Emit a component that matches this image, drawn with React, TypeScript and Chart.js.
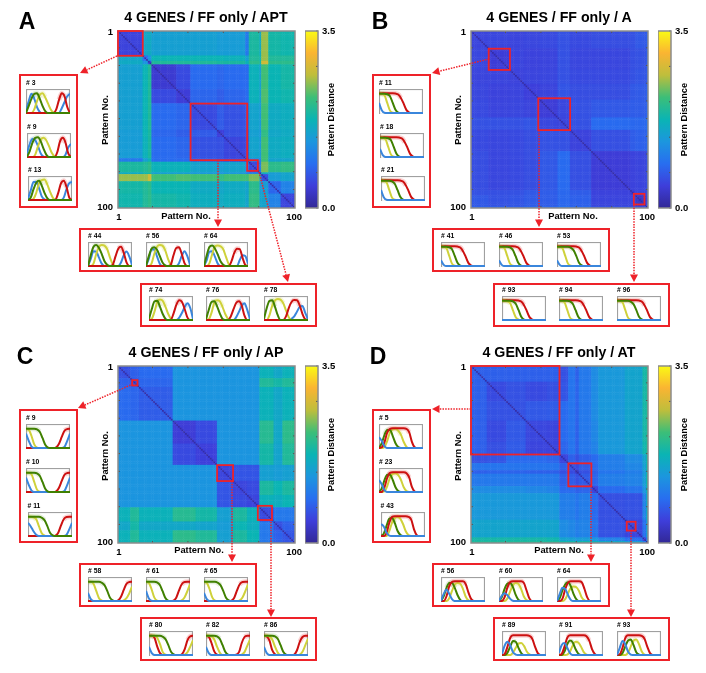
import React, { useEffect, useRef } from "react";
import { Chart, registerables } from "chart.js";

Chart.register(...registerables);

const FONT = "'Liberation Sans', Arial, sans-serif";
const RED = "#ee2229";
const SOFT = "blur(0.35px)";
const GRID = [0, 1, 2, 3, 4, 5, 6, 7, 8, 9, 10, 11, 12, 13, 14, 15, 16];
const PATTERNS = Array.from({ length: 100 }, (_, i) => i + 1);
const DIAGONAL = 0.1;
const BAR_TITLE = "Pattern Distance";

// ---- Heatmap block tables: first pattern of each cluster, and upper-triangular distances between clusters
const SEG_A = [1, 15, 18, 20, 34, 42, 57, 61, 73, 75, 81, 82, 86, 93, 101];
const DIST_A = [
  [0.48, 1.55, 1.6, 1.45, 1.45, 1.45, 1.4, 1.4, 1.0, 1.9, 1.6, 2.5, 1.85, 1.8],
  [0.9, 1.3, 1.75, 1.75, 1.75, 1.75, 1.7, 1.45, 1.95, 1.8, 2.5, 1.95, 1.95],
  [0.6, 1.95, 1.95, 1.95, 1.9, 1.9, 1.7, 2.05, 1.9, 2.75, 2.05, 2.05],
  [0.38, 0.55, 0.85, 0.8, 0.85, 0.85, 1.7, 1.45, 2.2, 1.75, 1.85],
  [0.42, 0.8, 0.72, 0.8, 0.85, 1.7, 1.45, 2.25, 1.75, 1.8],
  [0.55, 0.7, 0.62, 0.7, 1.5, 1.35, 2.2, 1.6, 1.65],
  [0.45, 0.6, 0.6, 1.45, 1.3, 2.1, 1.55, 1.6],
  [0.5, 0.55, 1.5, 1.35, 2.2, 1.6, 1.65],
  [0.3, 1.2, 1.1, 2.2, 1.5, 1.5],
  [0.55, 1.1, 2.4, 2.05, 2.1],
  [0.2, 1.6, 1.4, 1.5],
  [0.6, 1.4, 1.5],
  [0.8, 1.1],
  [0.5],
];
const SEG_B = [1, 11, 23, 31, 40, 50, 57, 69, 91, 94, 100, 101];
const DIST_B = [
  [0.5, 0.52, 0.5, 0.52, 0.55, 0.62, 0.55, 0.58, 0.62, 0.68, 0.75],
  [0.42, 0.5, 0.48, 0.5, 0.62, 0.52, 0.52, 0.6, 0.62, 0.72],
  [0.48, 0.5, 0.52, 0.62, 0.55, 0.55, 0.62, 0.65, 0.72],
  [0.45, 0.5, 0.65, 0.58, 0.58, 0.68, 0.7, 0.78],
  [0.42, 0.52, 0.62, 0.68, 0.72, 0.72, 0.8],
  [0.5, 0.62, 0.85, 0.82, 0.82, 0.9],
  [0.48, 0.6, 0.72, 0.75, 0.82],
  [0.42, 0.48, 0.5, 0.6],
  [0.4, 0.5, 0.6],
  [0.32, 0.55],
  [0.2],
];
const SEG_C = [1, 8, 13, 32, 45, 57, 66, 74, 81, 89, 94, 101];
const DIST_C = [
  [0.6, 0.75, 0.85, 1.3, 1.3, 1.3, 1.3, 1.3, 1.7, 1.55, 1.7],
  [0.65, 0.8, 1.3, 1.3, 1.3, 1.3, 1.3, 1.95, 1.85, 1.95],
  [0.72, 1.3, 1.3, 1.3, 1.3, 1.3, 1.7, 1.55, 1.7],
  [0.42, 0.55, 1.3, 1.3, 1.3, 2.0, 1.55, 2.05],
  [0.45, 1.3, 1.3, 1.3, 1.85, 1.5, 1.95],
  [0.5, 0.65, 0.65, 1.45, 1.4, 1.45],
  [0.5, 0.55, 1.9, 1.75, 1.9],
  [0.5, 1.7, 1.65, 1.75],
  [0.55, 1.0, 1.0],
  [0.6, 0.75],
  [0.65],
];
const SEG_D = [1, 10, 21, 32, 44, 51, 56, 60, 62, 69, 73, 88, 98, 100, 101];
const DIST_D = [
  [0.75, 0.75, 0.75, 0.75, 0.75, 0.62, 0.95, 0.75, 1.0, 1.2, 1.35, 1.5, 1.85, 1.95],
  [0.55, 0.62, 0.55, 0.6, 0.65, 0.95, 0.78, 1.0, 1.2, 1.35, 1.5, 1.85, 1.95],
  [0.62, 0.68, 0.7, 0.85, 0.95, 0.78, 1.0, 1.2, 1.35, 1.5, 1.85, 1.95],
  [0.52, 0.5, 0.85, 0.95, 0.75, 1.0, 1.15, 1.35, 1.5, 1.85, 1.95],
  [0.5, 0.8, 0.95, 0.75, 1.0, 1.1, 1.35, 1.5, 1.8, 1.95],
  [0.5, 0.75, 0.6, 0.75, 0.85, 1.05, 1.2, 1.5, 1.8],
  [0.65, 0.55, 0.72, 0.85, 1.05, 1.15, 1.45, 1.8],
  [0.3, 0.6, 0.75, 0.95, 1.05, 1.35, 1.7],
  [0.7, 0.8, 1.05, 1.1, 1.4, 1.8],
  [0.5, 0.85, 0.95, 1.3, 1.7],
  [0.6, 0.62, 1.1, 1.55],
  [0.52, 0.9, 1.4],
  [0.5, 1.0],
  [0.3],
];

// ---- Gene curve shapes (trailing zeros omitted)
const F2 = [0.8, 0.76, 0.5, 0.15, 0.02];
const F3 = [0.8, 0.8, 0.74, 0.42, 0.1, 0.01];
const F4 = [0.8, 0.8, 0.78, 0.7, 0.4, 0.12, 0.02];
const F5 = [0.8, 0.8, 0.8, 0.78, 0.7, 0.42, 0.14, 0.02];
const F6 = [0.8, 0.8, 0.8, 0.8, 0.78, 0.68, 0.42, 0.14, 0.02];
const F7 = [0.8, 0.8, 0.8, 0.8, 0.8, 0.76, 0.66, 0.42, 0.14, 0.03];
const RF9 = [0.82, 0.82, 0.82, 0.82, 0.82, 0.82, 0.81, 0.77, 0.62, 0.38, 0.12, 0.02];
const RF10 = [0.82, 0.82, 0.82, 0.82, 0.82, 0.82, 0.82, 0.81, 0.77, 0.62, 0.38, 0.12, 0.02];
const RF11 = [0.82, 0.82, 0.82, 0.82, 0.82, 0.82, 0.82, 0.82, 0.81, 0.77, 0.62, 0.38, 0.12, 0.02];
const R12 = [0, 0, 0, 0, 0, 0, 0, 0, 0, 0, 0.02, 0.14, 0.44, 0.7, 0.79, 0.8, 0.8];
const R13 = [0, 0, 0, 0, 0, 0, 0, 0, 0, 0, 0, 0.03, 0.18, 0.46, 0.72, 0.79, 0.8];
const ZERO = [0];
const T5 = [0.42, 0.12, 0.01];
const T4 = [0.34, 0.08];
const T3 = [0.24, 0.05];

type Mini = { id: number; b: number[]; g: number[]; y: number[]; r: number[]; top?: string };

const A_LEFT: Mini[] = [
  { id: 3, b: [0.1, 0.5, 0.8, 0.6, 0.25, 0.05, 0, 0, 0, 0, 0, 0, 0, 0.2, 0.45, 0.7, 0.8], g: [0, 0.3, 0.6, 0.8, 0.82, 0.6, 0.3, 0.08], y: [0, 0, 0, 0.15, 0.5, 0.75, 0.82, 0.65, 0.4, 0.15, 0.02], r: [0, 0, 0, 0, 0, 0, 0, 0, 0, 0, 0, 0.15, 0.55, 0.82, 0.7, 0.25, 0] },
  { id: 9, b: [0.15, 0.55, 0.75, 0.7, 0.45, 0.15, 0.02, 0, 0, 0, 0, 0, 0, 0, 0.1, 0.4, 0.55], g: [0, 0.25, 0.6, 0.8, 0.82, 0.65, 0.35, 0.1], y: [0, 0, 0, 0.1, 0.45, 0.72, 0.8, 0.7, 0.45, 0.18, 0.03], r: [0, 0, 0, 0, 0, 0, 0, 0, 0, 0, 0, 0.2, 0.65, 0.8, 0.6, 0.15, 0] },
  { id: 13, b: [0.05, 0.4, 0.75, 0.75, 0.5, 0.15, 0.03, 0, 0, 0, 0, 0, 0, 0.1, 0.45, 0.7, 0.75], g: [0, 0.1, 0.45, 0.72, 0.8, 0.6, 0.3, 0.08], y: [0, 0, 0.05, 0.3, 0.7, 0.83, 0.85, 0.65, 0.35, 0.1], r: [0, 0, 0, 0, 0, 0, 0, 0, 0, 0, 0.02, 0.3, 0.7, 0.8, 0.55, 0.1, 0] },
];
const A_MID: Mini[] = [
  { id: 44, b: [0, 0.3, 0.62, 0.6, 0.35, 0.1, 0, 0, 0, 0, 0, 0, 0.15, 0.45, 0.6, 0.4, 0.05], g: [0, 0.45, 0.8, 0.88, 0.75, 0.5, 0.2, 0.05], y: [0, 0, 0.1, 0.5, 0.8, 0.88, 0.85, 0.7, 0.35, 0.08], r: [0, 0, 0, 0, 0, 0, 0, 0, 0, 0.05, 0.4, 0.72, 0.8, 0.55, 0.15] },
  { id: 56, b: [0, 0.3, 0.68, 0.7, 0.4, 0.1, 0, 0, 0, 0, 0, 0, 0.12, 0.42, 0.62, 0.42, 0.05], g: [0, 0.4, 0.72, 0.78, 0.68, 0.42, 0.15, 0.03], y: [0, 0, 0.1, 0.5, 0.8, 0.88, 0.85, 0.65, 0.3, 0.06], r: [0, 0, 0, 0, 0, 0, 0, 0, 0, 0.05, 0.45, 0.75, 0.78, 0.5, 0.12] },
  { id: 64, b: [0, 0.25, 0.6, 0.62, 0.38, 0.1, 0, 0, 0, 0, 0, 0, 0, 0.25, 0.45, 0.42, 0.1], g: [0, 0.45, 0.8, 0.85, 0.72, 0.48, 0.2, 0.05], y: [0, 0, 0.12, 0.5, 0.82, 0.85, 0.82, 0.7, 0.38, 0.08], r: [0, 0, 0, 0, 0, 0, 0, 0, 0, 0, 0.2, 0.55, 0.72, 0.7, 0.35, 0.05] },
];
const A_RIGHT: Mini[] = [
  { id: 74, b: [0, 0, 0, 0, 0, 0, 0, 0, 0, 0, 0, 0.1, 0.3, 0.55, 0.7, 0.5, 0.05], g: [0.05, 0.45, 0.78, 0.8, 0.55, 0.25, 0.05], y: [0, 0.05, 0.35, 0.75, 0.85, 0.8, 0.55, 0.25, 0.05], r: [0, 0, 0, 0, 0, 0, 0, 0, 0.02, 0.3, 0.65, 0.82, 0.75, 0.45, 0.1] },
  { id: 76, b: [0, 0, 0, 0, 0, 0, 0, 0, 0, 0, 0, 0.12, 0.35, 0.6, 0.7, 0.42, 0.03], g: [0.03, 0.42, 0.75, 0.78, 0.58, 0.28, 0.05], y: [0, 0.03, 0.3, 0.72, 0.82, 0.78, 0.55, 0.25, 0.05], r: [0, 0, 0, 0, 0, 0, 0, 0, 0, 0.15, 0.45, 0.72, 0.78, 0.6, 0.18] },
  { id: 78, b: [0, 0, 0, 0, 0, 0, 0, 0, 0, 0, 0.05, 0.15, 0.35, 0.55, 0.58, 0.3, 0.02], g: [0.05, 0.5, 0.8, 0.82, 0.55, 0.2], y: [0, 0, 0.2, 0.6, 0.82, 0.88, 0.85, 0.7, 0.4, 0.12], r: [0, 0, 0, 0, 0, 0, 0, 0, 0.15, 0.5, 0.75, 0.83, 0.82, 0.6, 0.25, 0.03] },
];

const B_LEFT: Mini[] = [
  { id: 11, b: T5, g: F5, y: F3, r: RF9 },
  { id: 18, b: T4, g: F5, y: F3, r: RF10 },
  { id: 21, b: T5, g: F6, y: F3, r: RF10 },
];
const B_MID: Mini[] = [
  { id: 41, b: T3, g: F5, y: F3, r: RF9 },
  { id: 46, b: T3, g: F6, y: F3, r: RF9 },
  { id: 53, b: T3, g: F7, y: F3, r: RF10 },
];
const B_RIGHT: Mini[] = [
  { id: 93, b: ZERO, g: F6, y: F4, r: RF9 },
  { id: 94, b: ZERO, g: F6, y: F3, r: RF10 },
  { id: 96, b: ZERO, g: F7, y: F3, r: RF11 },
];

const BLUE_END = [0.6, 0.3, 0.06, 0, 0, 0, 0, 0, 0, 0, 0, 0, 0, 0, 0.05, 0.3, 0.6];
const Y_58 = [0.8, 0.8, 0.72, 0.42, 0.12, 0.02, 0, 0, 0, 0, 0, 0, 0, 0.03, 0.12, 0.32, 0.6];
const Y_61 = [0.8, 0.76, 0.5, 0.15, 0.02, 0, 0, 0, 0, 0, 0, 0, 0, 0.03, 0.15, 0.4, 0.7];
const C_LEFT: Mini[] = [
  { id: 9, b: BLUE_END, g: F6, y: F2, r: R13, top: "c" },
  { id: 10, b: BLUE_END, g: F6, y: F3, r: R13, top: "c" },
  { id: 11, b: [0.55, 0.4, 0.2, 0.05, 0, 0, 0, 0, 0, 0, 0, 0, 0, 0, 0.05, 0.28, 0.55], g: F7, y: F4, r: R12, top: "c" },
];
const C_MID: Mini[] = [
  { id: 58, b: T4, g: F7, y: Y_58, r: R13 },
  { id: 61, b: T5, g: F6, y: Y_61, r: R12 },
  { id: 65, b: T4, g: F7, y: Y_61, r: R12 },
];
const C_RIGHT: Mini[] = [
  { id: 80, b: T4, g: F7, y: [0.8, 0.8, 0.8, 0.72, 0.45, 0.12, 0.02, 0, 0, 0, 0, 0, 0, 0.02, 0.12, 0.35, 0.62], r: [0.8, 0.8, 0.72, 0.35, 0.08, 0, 0, 0, 0, 0, 0, 0, 0.04, 0.25, 0.62, 0.78, 0.8] },
  { id: 82, b: T4, g: F6, y: [0.8, 0.8, 0.78, 0.65, 0.35, 0.1, 0, 0, 0, 0, 0, 0, 0, 0.02, 0.12, 0.38, 0.65], r: [0.8, 0.76, 0.5, 0.15, 0.02, 0, 0, 0, 0, 0, 0, 0.02, 0.12, 0.5, 0.75, 0.8, 0.8] },
  { id: 86, b: T4, g: F6, y: [0.8, 0.8, 0.78, 0.65, 0.35, 0.1, 0, 0, 0, 0, 0, 0, 0, 0.02, 0.14, 0.4, 0.68], r: [0.8, 0.78, 0.6, 0.2, 0.03, 0, 0, 0, 0, 0, 0, 0.02, 0.2, 0.55, 0.75, 0.8, 0.8] },
];

const D_LEFT: Mini[] = [
  { id: 5, b: [0.45, 0.3, 0.08], g: [0, 0.2, 0.55, 0.75, 0.75, 0.5, 0.2, 0.04], y: [0, 0, 0.05, 0.3, 0.65, 0.78, 0.8, 0.72, 0.55, 0.25, 0.05], r: [0, 0.03, 0.25, 0.65, 0.8, 0.82, 0.82, 0.82, 0.82, 0.82, 0.8, 0.65, 0.25, 0.03] },
  { id: 23, b: [0.5, 0.32, 0.08], g: [0, 0.15, 0.5, 0.72, 0.72, 0.5, 0.2, 0.04], y: [0, 0, 0.03, 0.25, 0.6, 0.75, 0.78, 0.7, 0.5, 0.2, 0.04], r: [0, 0, 0.2, 0.6, 0.8, 0.82, 0.82, 0.82, 0.82, 0.82, 0.78, 0.6, 0.2, 0.02] },
  { id: 43, b: [0.5, 0.4, 0.15, 0.02], g: [0, 0.1, 0.42, 0.72, 0.75, 0.55, 0.22, 0.05], y: [0, 0, 0, 0.2, 0.55, 0.75, 0.8, 0.72, 0.5, 0.2, 0.04], r: [0, 0, 0.12, 0.55, 0.8, 0.82, 0.82, 0.82, 0.82, 0.82, 0.8, 0.68, 0.28, 0.04] },
];
const D_MID: Mini[] = [
  { id: 56, b: [0, 0.3, 0.48, 0.3, 0.08], g: [0, 0.2, 0.55, 0.75, 0.75, 0.55, 0.25, 0.05], y: [0, 0, 0, 0.12, 0.42, 0.68, 0.75, 0.72, 0.5, 0.18, 0.03], r: [0, 0, 0.2, 0.62, 0.8, 0.82, 0.82, 0.82, 0.82, 0.7, 0.35, 0.08] },
  { id: 60, b: [0, 0.22, 0.32, 0.25, 0.1, 0.01], g: [0, 0.15, 0.5, 0.72, 0.75, 0.6, 0.28, 0.06], y: [0, 0, 0, 0.1, 0.38, 0.65, 0.75, 0.72, 0.52, 0.2, 0.04], r: [0, 0, 0.15, 0.55, 0.78, 0.82, 0.82, 0.82, 0.82, 0.76, 0.45, 0.12] },
  { id: 64, b: [0, 0.3, 0.55, 0.5, 0.25, 0.05], g: [0, 0.12, 0.45, 0.7, 0.78, 0.62, 0.3, 0.08], y: [0, 0, 0, 0.08, 0.32, 0.55, 0.6, 0.58, 0.42, 0.15, 0.03], r: [0, 0, 0.1, 0.5, 0.76, 0.82, 0.82, 0.82, 0.82, 0.78, 0.5, 0.15] },
];
const D_RIGHT: Mini[] = [
  { id: 89, b: [0.05, 0.4, 0.55, 0.4, 0.12, 0.02], g: [0, 0, 0.1, 0.35, 0.58, 0.55, 0.3, 0.08], y: [0, 0, 0, 0, 0.1, 0.3, 0.48, 0.5, 0.38, 0.15, 0.03], r: [0, 0.05, 0.35, 0.72, 0.82, 0.82, 0.82, 0.82, 0.82, 0.82, 0.8, 0.68, 0.35, 0.08] },
  { id: 91, b: [0.1, 0.42, 0.5, 0.3, 0.08], g: [0, 0, 0.15, 0.45, 0.6, 0.52, 0.25, 0.06], y: [0, 0, 0, 0.02, 0.14, 0.4, 0.55, 0.52, 0.35, 0.12, 0.02], r: [0, 0.05, 0.35, 0.72, 0.82, 0.82, 0.82, 0.82, 0.82, 0.82, 0.78, 0.6, 0.25, 0.05] },
  { id: 93, b: [0, 0.3, 0.58, 0.45, 0.15, 0.02], g: [0, 0, 0.08, 0.35, 0.6, 0.65, 0.42, 0.12, 0.02], y: [0, 0, 0, 0, 0.1, 0.35, 0.6, 0.65, 0.45, 0.15, 0.02], r: [0, 0.03, 0.3, 0.7, 0.82, 0.82, 0.82, 0.82, 0.82, 0.8, 0.68, 0.35, 0.08] },
];

// ---- Panels
type Panel = {
  letter: string; title: string; ox: number; oy: number; titleX: number; letterX: number;
  seg: number[]; dist: number[][]; ranges: number[][];
  minis: Mini[][]; order: string[];
  arrows: number[][];
};
const PANELS: Panel[] = [
  { letter: "A", title: "4 GENES / FF only / APT", ox: 0, oy: 0, titleX: 186, letterX: 19, seg: SEG_A, dist: DIST_A, ranges: [[1, 14], [42, 73], [74, 79]], minis: [A_LEFT, A_MID, A_RIGHT], order: ["g", "r", "y", "b"], arrows: [[117, 56, 80, 73], [218, 160, 218, 227], [259, 172, 288, 282]] },
  { letter: "B", title: "4 GENES / FF only / A", ox: 353, oy: 0, titleX: 220, letterX: 19, seg: SEG_B, dist: DIST_B, ranges: [[11, 22], [39, 56], [93, 98]], minis: [B_LEFT, B_MID, B_RIGHT], order: ["b", "g", "y", "r"], arrows: [[136, 59, 79, 73], [186, 130, 186, 227], [281, 205, 281, 282]] },
  { letter: "C", title: "4 GENES / FF only / AP", ox: 0, oy: 336, titleX: 199, letterX: 17, seg: SEG_C, dist: DIST_C, ranges: [[9, 11], [57, 65], [80, 87]], minis: [C_LEFT, C_MID, C_RIGHT], order: ["b", "g", "y", "r"], arrows: [[133, 48, 78, 72], [232, 145, 232, 226], [271, 183, 271, 281]] },
  { letter: "D", title: "4 GENES / FF only / AT", ox: 353, oy: 336, titleX: 206, letterX: 17, seg: SEG_D, dist: DIST_D, ranges: [[1, 50], [56, 68], [89, 93]], minis: [D_LEFT, D_MID, D_RIGHT], order: ["b", "r", "g", "y"], arrows: [[118, 73, 79, 73], [238, 150, 238, 226], [278, 194, 278, 281]] },
];

const COLORS: Record<string, string> = { b: "#3a86dc", g: "#3f8000", y: "#cfd13a", r: "#cc1111" };
const HALO: Record<string, string> = { b: "rgba(58,134,220,.18)", g: "rgba(63,128,0,.14)", y: "rgba(207,209,58,.2)", r: "rgba(230,40,40,.2)" };
const COLOR_STOPS = [[50, 40, 150], [62, 62, 218], [40, 110, 240], [28, 150, 222], [10, 180, 180], [60, 190, 120], [190, 190, 60], [250, 180, 50], [250, 250, 20]];
const COLOR_MAX = 3.5;
const BAR_TICKS = [0, 0.7, 1.4, 2.1, 2.8, 3.5];

function colorOf(v: number) {
  const t = Math.min(Math.max(v / COLOR_MAX, 0), 1) * (COLOR_STOPS.length - 1);
  const i = Math.min(Math.floor(t), COLOR_STOPS.length - 2);
  const f = t - i;
  const c = COLOR_STOPS[i].map((a, k) => Math.round(a + (COLOR_STOPS[i + 1][k] - a) * f));
  return `rgb(${c[0]},${c[1]},${c[2]})`;
}

function segOf(seg: number[], p: number) {
  let s = 0;
  while (s < seg.length - 2 && p >= seg[s + 1]) s++;
  return s;
}

function distance(panel: Panel, i: number, j: number) {
  if (i === j) return DIAGONAL;
  const a = segOf(panel.seg, Math.min(i, j));
  const b = segOf(panel.seg, Math.max(i, j));
  return panel.dist[a][b - a];
}

const HX = 118, HY = 31, HS = 177;
const PAD_L = 30, PAD_T = 8, PAD_R = 10, PAD_B = 16;

function heatChart(canvas: HTMLCanvasElement, panel: Panel) {
  const pts: { x: number; y: number }[] = [];
  const cols: string[] = [];
  for (const i of PATTERNS) for (const j of PATTERNS) {
    pts.push({ x: j, y: i });
    cols.push(colorOf(distance(panel, i, j)));
  }
  const decor = {
    id: "decor",
    afterDatasetsDraw(chart: any) {
      const { ctx, chartArea: a, scales } = chart;
      ctx.save();
      ctx.strokeStyle = "#555";
      ctx.lineWidth = 1;
      ctx.beginPath();
      for (const t of scales.y.ticks) {
        const p = scales.y.getPixelForValue(t.value);
        if (t.value === 1 || t.value === 100) continue;
        ctx.moveTo(a.left, p); ctx.lineTo(a.left + 2, p);
        ctx.moveTo(a.right, p); ctx.lineTo(a.right - 2, p);
      }
      for (const t of scales.x.ticks) {
        const p = scales.x.getPixelForValue(t.value);
        if (t.value === 1 || t.value === 100) continue;
        ctx.moveTo(p, a.top); ctx.lineTo(p, a.top + 2);
        ctx.moveTo(p, a.bottom); ctx.lineTo(p, a.bottom - 2);
      }
      ctx.stroke();
      ctx.strokeStyle = "#8c8c8c";
      ctx.lineWidth = 1.5;
      ctx.strokeRect(a.left, a.top, a.right - a.left, a.bottom - a.top);
      ctx.strokeStyle = RED;
      ctx.lineWidth = 1.8;
      for (const [lo, hi] of panel.ranges) {
        const x0 = scales.x.getPixelForValue(lo - 0.5), x1 = scales.x.getPixelForValue(hi + 0.5);
        const y0 = scales.y.getPixelForValue(lo - 0.5), y1 = scales.y.getPixelForValue(hi + 0.5);
        ctx.strokeRect(x0, y0, x1 - x0, y1 - y0);
      }
      ctx.restore();
    },
  };
  const tickFont = { family: FONT, size: 9.5, weight: "bold" as const };
  return new Chart(canvas, {
    type: "scatter",
    data: { datasets: [{ data: pts, pointBackgroundColor: cols, pointBorderWidth: 0, pointRadius: 1.6, pointStyle: "rect" }] as any },
    plugins: [decor],
    options: {
      animation: false, responsive: false, events: [],
      layout: { padding: { top: PAD_T, right: PAD_R, left: 0, bottom: 0 } },
      plugins: { legend: { display: false }, tooltip: { enabled: false } },
      scales: {
        x: {
          type: "linear", min: 0.5, max: 100.5,
          grid: { display: false, drawTicks: false }, border: { display: false },
          afterBuildTicks: (s: any) => { s.ticks = [1, 20, 40, 60, 80, 100].map((value) => ({ value })); },
          afterFit: (s: any) => { s.height = PAD_B; s.paddingLeft = 0; s.paddingRight = 0; },
          ticks: { autoSkip: false, maxRotation: 0, padding: 4, color: "#000", font: tickFont, callback: (v: any) => (v === 1 || v === 100 ? String(v) : "") },
        },
        y: {
          type: "linear", min: 0.5, max: 100.5, reverse: true,
          grid: { display: false, drawTicks: false }, border: { display: false },
          afterBuildTicks: (s: any) => { s.ticks = [1, 10, 20, 30, 40, 50, 60, 70, 80, 90, 100].map((value) => ({ value })); },
          afterFit: (s: any) => { s.width = PAD_L; s.paddingTop = 0; s.paddingBottom = 0; },
          ticks: { autoSkip: false, padding: 5, color: "#000", font: tickFont, callback: (v: any) => (v === 1 || v === 100 ? String(v) : "") },
        },
      },
    } as any,
  });
}

function colorbarChart(canvas: HTMLCanvasElement) {
  const frame = {
    id: "frame",
    afterDatasetsDraw(chart: any) {
      const { ctx, chartArea: a, scales } = chart;
      ctx.save();
      ctx.strokeStyle = "#555";
      ctx.lineWidth = 1;
      ctx.beginPath();
      for (const t of scales.y.ticks) {
        const p = scales.y.getPixelForValue(t.value);
        ctx.moveTo(a.right, p); ctx.lineTo(a.right - 2, p);
      }
      ctx.stroke();
      ctx.strokeStyle = "#8c8c8c";
      ctx.lineWidth = 1.5;
      ctx.strokeRect(a.left, a.top, a.right - a.left, a.bottom - a.top);
      ctx.translate(26, (a.top + a.bottom) / 2);
      ctx.rotate(-Math.PI / 2);
      ctx.fillStyle = "#000";
      ctx.font = `bold 9.3px ${FONT}`;
      ctx.textAlign = "center";
      ctx.textBaseline = "middle";
      ctx.fillText(BAR_TITLE, 0, 0);
      ctx.restore();
    },
  };
  return new Chart(canvas, {
    type: "bar",
    data: {
      labels: [BAR_TITLE],
      datasets: [{
        data: [[0, COLOR_MAX]],
        barPercentage: 1, categoryPercentage: 1, borderWidth: 0,
        backgroundColor: (c: any) => {
          const a = c.chart.chartArea;
          if (!a) return "#000";
          const g = c.chart.ctx.createLinearGradient(0, a.bottom, 0, a.top);
          COLOR_STOPS.forEach((_, i) => g.addColorStop(i / (COLOR_STOPS.length - 1), colorOf((i / (COLOR_STOPS.length - 1)) * COLOR_MAX)));
          return g;
        },
      }] as any,
    },
    plugins: [frame],
    options: {
      animation: false, responsive: false, events: [],
      layout: { padding: { top: PAD_T, bottom: PAD_B } },
      plugins: { legend: { display: false }, tooltip: { enabled: false } },
      scales: {
        x: { display: false },
        y: {
          position: "right", min: 0, max: COLOR_MAX,
          grid: { display: false, drawTicks: false }, border: { display: false },
          afterBuildTicks: (s: any) => { s.ticks = BAR_TICKS.map((value) => ({ value })); },
          afterFit: (s: any) => { s.width = 20; s.paddingTop = 0; s.paddingBottom = 0; },
          ticks: { autoSkip: false, padding: 4, color: "#000", font: { family: FONT, size: 9.5, weight: "bold" }, callback: (v: any) => (v === 0 || v === COLOR_MAX ? Number(v).toFixed(1) : "") },
        },
      },
    } as any,
  });
}

function miniChart(canvas: HTMLCanvasElement, m: Mini, order: string[]) {
  const get = (k: string): number[] => (m as any)[k];
  const series = (k: string) => GRID.map((x) => ({ x, y: get(k)[x] ?? 0 }));
  const order2 = m.top === "c" ? ["g", "b", "y", "r"] : order;
  const datasets: any[] = order2.map((k) => ({
    label: k, data: series(k), borderColor: COLORS[k], borderWidth: 2, pointRadius: 0, cubicInterpolationMode: "monotone",
  }));
  order2.forEach((k) => datasets.push({
    label: k + " band", data: series(k).map((p) => ({ x: p.x, y: p.y > 0.5 ? p.y : null })),
    borderColor: HALO[k], borderWidth: 5, pointRadius: 0, cubicInterpolationMode: "monotone",
  }));
  const frame = {
    id: "frame",
    beforeDatasetsDraw(chart: any) {
      const { ctx, chartArea: a } = chart;
      ctx.save();
      ctx.strokeStyle = "#a0a0a0";
      ctx.lineWidth = 1.2;
      ctx.strokeRect(a.left + 0.5, a.top + 0.5, a.right - a.left - 1, a.bottom - a.top);
      ctx.restore();
    },
  };
  return new Chart(canvas, {
    type: "line",
    data: { datasets },
    plugins: [frame],
    options: {
      animation: false, responsive: false, events: [],
      layout: { padding: 0 },
      plugins: { legend: { display: false }, tooltip: { enabled: false } },
      scales: {
        x: { type: "linear", display: false, min: 0, max: 16 },
        y: { type: "linear", display: false, min: -0.04, max: 1 },
      },
    } as any,
  });
}

const T = (p: { x: number; y: number; size: number; text: string; rot?: boolean; left?: boolean }) => (
  <div style={{
    position: "absolute", left: p.x, top: p.y, fontFamily: FONT, fontWeight: "bold", fontSize: p.size, lineHeight: 1,
    whiteSpace: "nowrap", color: "#000", filter: SOFT,
    writingMode: p.rot ? "vertical-rl" : undefined,
    transform: p.rot ? "translate(-50%,-50%) rotate(180deg)" : p.left ? "translateY(-50%)" : "translate(-50%,-50%)",
  }}>{p.text}</div>
);

const Box = (p: { x: number; y: number; w: number; h: number }) => (
  <div style={{ position: "absolute", left: p.x, top: p.y, width: p.w, height: p.h, boxSizing: "border-box", border: `2px solid ${RED}` }} />
);

const LEFT_X = [[26, 27, 28], [26, 26, 27.5]];
const LEFT_Y = [[89, 133, 176], [88, 132, 176]];
const MID_X = [88, 146, 204];
const RIGHT_X = [149, 206, 264];
const MW = 44, MH = 25;

function miniPositions(p: Panel) {
  const row = p.oy ? 1 : 0;
  const out: { m: Mini; x: number; y: number }[] = [];
  p.minis[0].forEach((m, i) => out.push({ m, x: p.ox + LEFT_X[row][i], y: p.oy + LEFT_Y[row][i] }));
  p.minis[1].forEach((m, i) => out.push({ m, x: p.ox + MID_X[i], y: p.oy + (row ? 241 : 242) }));
  p.minis[2].forEach((m, i) => out.push({ m, x: p.ox + RIGHT_X[i], y: p.oy + (row ? 295 : 296) }));
  return out;
}

export default function App() {
  const host = useRef<HTMLDivElement>(null);
  useEffect(() => {
    const charts: Chart[] = [];
    const root = host.current!;
    const q = (k: string) => root.querySelector(`canvas[data-k="${k}"]`) as HTMLCanvasElement;
    PANELS.forEach((p) => {
      charts.push(heatChart(q(`h${p.letter}`), p));
      charts.push(colorbarChart(q(`c${p.letter}`)));
      miniPositions(p).forEach(({ m }, i) => charts.push(miniChart(q(`m${p.letter}${i}`), m, p.order)));
    });
    return () => charts.forEach((c) => c.destroy());
  }, []);

  return (
    <div ref={host} style={{ position: "fixed", left: 0, top: 0, width: 706, height: 673, background: "#fff", overflow: "hidden" }}>
      {PANELS.map((p) => {
        const row = p.oy ? 1 : 0;
        const L = p.ox, U = p.oy;
        return (
          <React.Fragment key={p.letter}>
            <T x={L + p.letterX + 8} y={U + (row ? 20 : 21)} size={23} text={p.letter} />
            <T x={L + 206} y={U + (row ? 16 : 17)} size={14.2} text={p.title} />
            <canvas data-k={`h${p.letter}`} width={HS + PAD_L + PAD_R} height={HS + PAD_T + PAD_B} style={{ position: "absolute", filter: SOFT, left: L + HX - PAD_L, top: U + HY - PAD_T - (row ? 1 : 0) }} />
            <canvas data-k={`c${p.letter}`} width={33} height={HS + PAD_T + PAD_B} style={{ position: "absolute", filter: SOFT, left: L + 305, top: U + HY - PAD_T - (row ? 1 : 0) }} />
            <T x={L + p.titleX} y={U + (row ? 215 : 216.5)} size={9.3} text="Pattern No." />
            <T x={L + 106} y={U + 120} size={9.3} text="Pattern No." rot />
            <Box x={L + 19} y={U + (row ? 73 : 74)} w={59} h={134} />
            <Box x={L + 79} y={U + (row ? 227 : 228)} w={178} h={44} />
            <Box x={L + 140} y={U + (row ? 281 : 283)} w={177} h={44} />
            {miniPositions(p).map(({ m, x, y }, i) => (
              <React.Fragment key={i}>
                <canvas data-k={`m${p.letter}${i}`} width={MW} height={MH} style={{ position: "absolute", filter: SOFT, left: x, top: y }} />
                <T x={x} y={y - 6} size={6.8} text={`# ${m.id}`} left />
              </React.Fragment>
            ))}
          </React.Fragment>
        );
      })}
      <svg width={706} height={673} style={{ position: "absolute", left: 0, top: 0, pointerEvents: "none" }}>
        {PANELS.flatMap((p) => p.arrows.map((a, i) => {
          const [x0, y0, x1, y1] = [a[0] + p.ox, a[1] + p.oy, a[2] + p.ox, a[3] + p.oy];
          const ang = Math.atan2(y1 - y0, x1 - x0);
          const len = 7.5, wid = 4;
          const bx = x1 - len * Math.cos(ang), by = y1 - len * Math.sin(ang);
          const nx = -Math.sin(ang) * wid, ny = Math.cos(ang) * wid;
          return (
            <g key={p.letter + i}>
              <line x1={x0} y1={y0} x2={bx} y2={by} stroke={RED} strokeWidth={1.5} strokeDasharray="1.5 1.2" />
              <polygon points={`${x1},${y1} ${bx + nx},${by + ny} ${bx - nx},${by - ny}`} fill={RED} />
            </g>
          );
        }))}
      </svg>
    </div>
  );
}
